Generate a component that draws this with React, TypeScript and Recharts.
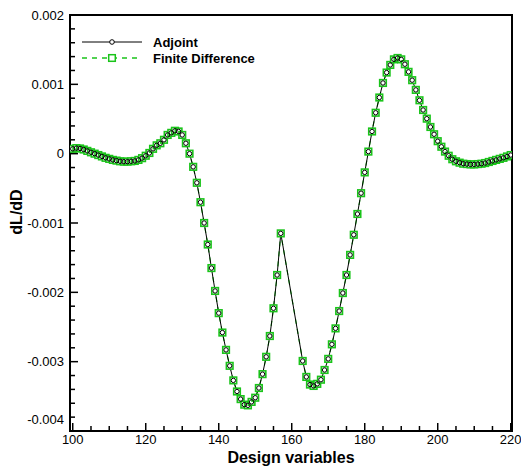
import { LineChart, Line, XAxis, YAxis, ReferenceArea, Legend } from 'recharts';

// design variable index (158-162 are absent in the source plot)
const designVars = [
  100, 101, 102, 103, 104, 105, 106, 107, 108, 109, 110, 111, 112, 113, 114, 115, 116, 117, 118, 119,
  120, 121, 122, 123, 124, 125, 126, 127, 128, 129, 130, 131, 132, 133, 134, 135, 136, 137, 138, 139,
  140, 141, 142, 143, 144, 145, 146, 147, 148, 149, 150, 151, 152, 153, 154, 155, 156, 157,
  163, 164, 165, 166, 167, 168, 169, 170, 171, 172, 173, 174, 175, 176, 177, 178, 179,
  180, 181, 182, 183, 184, 185, 186, 187, 188, 189, 190, 191, 192, 193, 194, 195, 196, 197, 198, 199,
  200, 201, 202, 203, 204, 205, 206, 207, 208, 209, 210, 211, 212, 213, 214, 215, 216, 217, 218, 219, 220,
];

const adjoint = [
  0.00007, 0.00008, 0.000075, 0.00006, 0.00004, 0.00002, 0.0, -0.00002, -0.00004, -0.00006,
  -0.000075, -0.00009, -0.0001, -0.00011, -0.000115, -0.000115, -0.00011, -0.000105, -0.00009, -0.000065,
  -0.00003, 0.00001, 0.00007, 0.00012, 0.00015, 0.0002, 0.00027, 0.0003, 0.00033, 0.00032,
  0.00027, 0.00015, 0.0, -0.00019, -0.00042, -0.0007, -0.001, -0.00131, -0.00165, -0.00198,
  -0.0023, -0.00258, -0.00283, -0.00306, -0.00327, -0.00343, -0.00354, -0.00362, -0.00363, -0.00358,
  -0.00352, -0.00338, -0.00318, -0.00293, -0.00263, -0.00223, -0.00175, -0.00115,
  -0.00299, -0.00322, -0.00333, -0.00335, -0.00332, -0.00326, -0.00312, -0.00296, -0.00275, -0.00252,
  -0.00227, -0.00201, -0.00175, -0.00146, -0.00117, -0.00087, -0.00057,
  -0.00027, 0.00003, 0.00032, 0.00059, 0.00081, 0.00102, 0.00117, 0.00128, 0.00136, 0.00138,
  0.00136, 0.00129, 0.00118, 0.00106, 0.00092, 0.00077, 0.00063, 0.000505, 0.000385, 0.00028,
  0.00018, 0.0001, 0.00003, -0.00003, -0.00008, -0.00011, -0.00013, -0.000145, -0.00015, -0.000155,
  -0.000155, -0.00015, -0.000145, -0.000135, -0.00012, -0.000105, -0.00009, -0.000075, -0.00006, -0.00004, -0.00002,
];

// finite-difference values coincide with the adjoint ones at this resolution
const finiteDifference = adjoint;

const xTicks = [
  100, 105, 110, 115, 120, 125, 130, 135, 140, 145, 150, 155, 160, 165, 170, 175, 180, 185, 190, 195,
  200, 205, 210, 215, 220,
];
const xMajor = [100, 120, 140, 160, 180, 200, 220];

const yTicks = [
  -0.004, -0.0038, -0.0036, -0.0034, -0.0032, -0.003, -0.0028, -0.0026, -0.0024, -0.0022,
  -0.002, -0.0018, -0.0016, -0.0014, -0.0012, -0.001, -0.0008, -0.0006, -0.0004, -0.0002,
  0, 0.0002, 0.0004, 0.0006, 0.0008, 0.001, 0.0012, 0.0014, 0.0016, 0.0018, 0.002,
];
const yMajor = [-0.004, -0.003, -0.002, -0.001, 0, 0.001, 0.002];

const data = designVars.map((d, i) => ({ d, adj: adjoint[i], fd: finiteDifference[i] }));

const GREEN = '#1ac41a';
const FONT = '"Liberation Sans", Arial, sans-serif';

function XTick({ x, y, payload }: any) {
  const major = xMajor.includes(payload.value);
  return (
    <g>
      <line x1={x} x2={x} y1={y} y2={y - (major ? 8 : 5)} stroke="#000" strokeWidth={1.5} />
      {major && (
        <text x={x} y={y + 13} textAnchor="middle" fontSize={13} fontFamily={FONT} fill="#000">
          {payload.value}
        </text>
      )}
    </g>
  );
}

function YTick({ x, y, payload }: any) {
  const major = yMajor.includes(payload.value);
  const shift = payload.value === -0.004 ? -12 : 0;
  return (
    <g>
      <line x1={x} x2={x + (major ? 8 : 5)} y1={y} y2={y} stroke="#000" strokeWidth={1.5} />
      {major && (
        <text x={x - 6} y={y + shift + 4.5} textAnchor="end" fontSize={13} fontFamily={FONT} fill="#000">
          {String(payload.value)}
        </text>
      )}
    </g>
  );
}

function SquareDot({ cx, cy, index }: any) {
  return <rect key={index} x={cx - 3.3} y={cy - 3.3} width={6.6} height={6.6} fill="#fff" stroke={GREEN} strokeWidth={1.6} />;
}

function LegendBox() {
  return (
    <svg width={200} height={40}>
      <line x1={7} x2={67} y1={10} y2={10} stroke="#000" strokeWidth={1} />
      <circle cx={37} cy={10} r={2.3} fill="#fff" stroke="#000" strokeWidth={1} />
      <text x={78} y={14.5} fontSize={13} fontWeight="bold" fontFamily={FONT} fill="#000">Adjoint</text>
      <line x1={7} x2={67} y1={26} y2={26} stroke={GREEN} strokeWidth={1.3} strokeDasharray="5 5" />
      <rect x={33.7} y={22.7} width={6.6} height={6.6} fill="#fff" stroke={GREEN} strokeWidth={1.5} />
      <text x={78} y={30.5} fontSize={13} fontWeight="bold" fontFamily={FONT} fill="#000">Finite Difference</text>
    </svg>
  );
}

export default function App() {
  return (
    <div style={{ position: 'absolute', left: 0, top: 0, width: 521, height: 468, background: '#fff' }}>
      <LineChart width={521} height={468} data={data} margin={{ top: 15, right: 9, bottom: 0, left: 0 }}>
        <XAxis
          dataKey="d"
          type="number"
          domain={[99.25, 220.35]}
          allowDataOverflow
          ticks={xTicks}
          interval={0}
          height={37}
          tickSize={0}
          tickMargin={0}
          tickLine={false}
          axisLine={false}
          tick={<XTick />}
          label={{ value: 'Design variables', position: 'insideBottom', offset: 5, fill: '#000', fontSize: 16, fontWeight: 'bold', fontFamily: FONT }}
        />
        <YAxis
          type="number"
          domain={[-0.004, 0.002]}
          allowDataOverflow
          ticks={yTicks}
          interval={0}
          width={70}
          tickSize={0}
          tickMargin={0}
          tickLine={false}
          axisLine={false}
          tick={<YTick />}
          label={{
            content: () => (
              <text x={16} y={212} transform="rotate(-90 16 212)" textAnchor="middle" dominantBaseline="central"
                fontSize={16} fontWeight="bold" fontFamily={FONT} fill="#000">dL/dD</text>
            ),
          }}
        />
        <ReferenceArea x1={99.25} x2={220.35} y1={-0.004} y2={0.002} fill="none" stroke="#000" strokeWidth={2} ifOverflow="visible" />
        <Line
          dataKey="fd"
          stroke={GREEN}
          strokeWidth={1.2}
          strokeDasharray="5 5"
          dot={<SquareDot />}
          isAnimationActive={false}
        />
        <Line
          dataKey="adj"
          stroke="#000"
          strokeWidth={1}
          dot={{ r: 2.2, fill: 'none', stroke: '#000', strokeWidth: 1 }}
          isAnimationActive={false}
        />
        <Legend
          layout="vertical"
          align="center"
          verticalAlign="middle"
          wrapperStyle={{ position: 'absolute', left: 75, top: 32, width: 200, height: 40 }}
          content={() => <LegendBox />}
        />
      </LineChart>
    </div>
  );
}
